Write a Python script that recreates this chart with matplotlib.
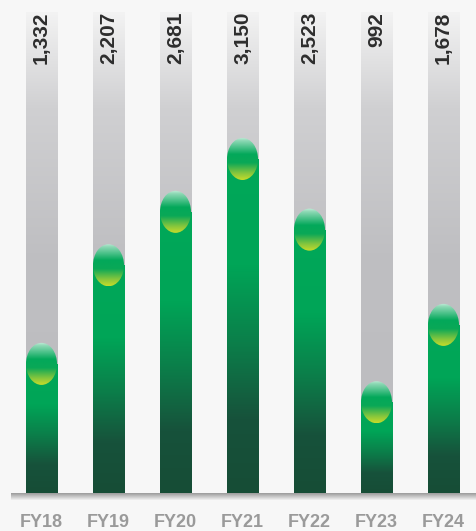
import numpy as np
import matplotlib.pyplot as plt
from matplotlib.colors import LinearSegmentedColormap
from matplotlib.patches import Rectangle, Ellipse

# Yearly values shown as green "thermometer" bars
years = ['FY18', 'FY19', 'FY20', 'FY21', 'FY22', 'FY23', 'FY24']
values = [1332, 2207, 2681, 3150, 2523, 992, 1678]

W, H = 477, 531
track_top = 4268      # top of the grey background tracks
y_min, y_max = -62, 4374
bar_w = 0.463
cap_h = 373           # height of the rounded cap, data units

bg = '#f7f7f7'
fig = plt.figure(figsize=(W / 100, H / 100), dpi=100, facecolor=bg)
ax = fig.add_axes([0, 31 / H, 1, 500 / H])
ax.set_facecolor(bg)

track_cmap = LinearSegmentedColormap.from_list('track', [
    (0.0, '#bcbcbf'), (0.5, '#bfbfc2'), (0.8, '#d0d0d2'), (1.0, '#f3f3f3')])
bar_cmap = LinearSegmentedColormap.from_list('bar', [
    (0.0, '#00a859'), (0.32, '#00a557'), (0.55, '#0b7f4a'),
    (0.78, '#17523b'), (1.0, '#164d36')])
cap_cmap = LinearSegmentedColormap.from_list('cap', [
    (0.0, '#c8eedd'), (0.08, '#8fd9b6'), (0.4, '#03a85a'),
    (0.6, '#0aa857'), (0.85, '#8ac73c'), (1.0, '#c6dc2a')])

grad = np.linspace(0, 1, 256).reshape(-1, 1)


def gradient_fill(patch, extent, cmap, flip=False):
    ax.add_patch(patch)
    g = grad[::-1] if flip else grad
    im = ax.imshow(g, extent=extent, cmap=cmap, aspect='auto',
                   origin='upper', interpolation='bilinear')
    im.set_clip_path(patch)


for i, v in enumerate(values):
    x0, x1 = i - bar_w / 2, i + bar_w / 2

    # grey track
    tr = Rectangle((x0, 0), bar_w, track_top, fill=False, lw=0)
    gradient_fill(tr, (x0, x1, 0, track_top), track_cmap, flip=True)

    # green body up to the cap centre
    top = v - cap_h / 2
    body = Rectangle((x0, 0), bar_w, top, fill=False, lw=0)
    gradient_fill(body, (x0, x1, 0, top), bar_cmap)

    # rounded cap
    cap = Ellipse((i, top), bar_w, cap_h, fill=False, lw=0)
    gradient_fill(cap, (x0, x1, v - cap_h, v), cap_cmap)

    ax.text(i, track_top, f'{v:,}', rotation=90, ha='center', va='top',
            fontsize=15, fontweight='bold', color='#2d2d2d',
            family='Liberation Sans')
    fig.text((41.5 + 67 * i) / W, 1 - 514 / H, years[i], ha='center', va='top',
             fontsize=13, fontweight='bold', color='#9a9a9a',
             family='Liberation Sans')

# baseline with soft shadow
base_cmap = LinearSegmentedColormap.from_list('base', ['#9a9a9a', '#f2f2f2'])
base = Rectangle((-0.455, y_min), 7, -y_min, fill=False, lw=0)
gradient_fill(base, (-0.455, 6.6, y_min, 0), base_cmap)

ax.set_xlim(-41.5 / 67, (W - 41.5) / 67)
ax.set_ylim(y_min, y_max)
ax.axis('off')

plt.savefig('out.png', dpi=100, facecolor=bg)
